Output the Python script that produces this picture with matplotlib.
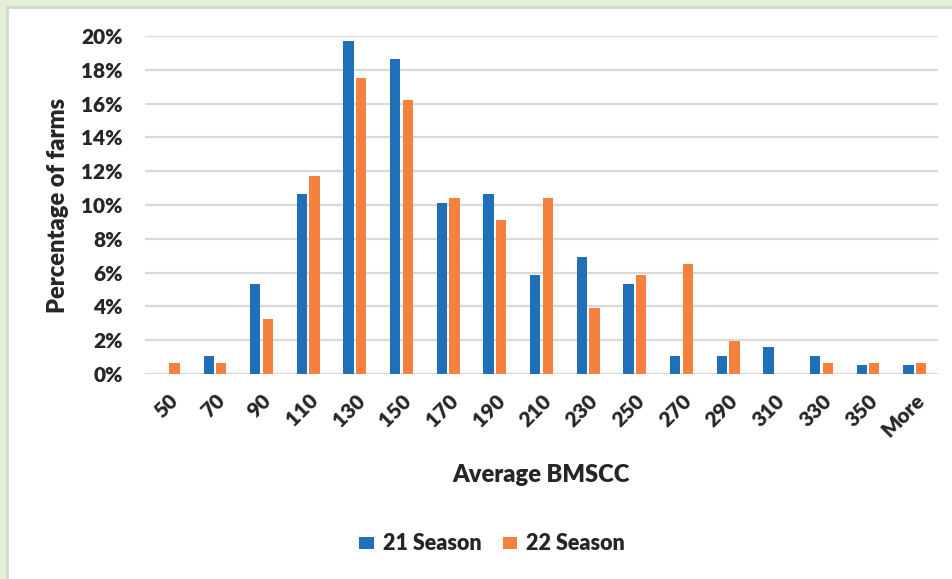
import numpy as np
import matplotlib.pyplot as plt
from matplotlib.patches import Rectangle
from matplotlib.ticker import PercentFormatter

plt.rcParams['font.family'] = ['Lato', 'DejaVu Sans']

# BMSCC bins and share of farms per season (%)
bins = ['50', '70', '90', '110', '130', '150', '170', '190', '210',
        '230', '250', '270', '290', '310', '330', '350', 'More']
season21 = [0.0, 1.06, 5.32, 10.64, 19.68, 18.62, 10.11, 10.64, 5.85,
            6.91, 5.32, 1.06, 1.06, 1.60, 1.06, 0.53, 0.53]
season22 = [0.65, 0.65, 3.25, 11.69, 17.53, 16.23, 10.39, 9.09, 10.39,
            3.90, 5.84, 6.49, 1.95, 0.0, 0.65, 0.65, 0.65]

blue = '#1f70b8'
orange = '#f4813d'
grid = '#d9d9d9'
txt = '#262626'
wt = 'heavy'

fig = plt.figure(figsize=(9.53, 5.79), dpi=100)
fig.patch.set_facecolor('#e3f0d8')
# white panel behind the chart
fig.patches.append(Rectangle((7 / 953, -0.01), 1.0, 1 - 7 / 579 + 0.01,
                             transform=fig.transFigure, facecolor='white',
                             edgecolor='#d6d6d6', linewidth=2, zorder=-10))

ax = fig.add_axes([145 / 953, 1 - 374 / 579, (938 - 145) / 953, (374 - 36) / 579])
ax.set_facecolor('none')

x = np.arange(len(bins))
w = 0.22
ax.bar(x - 0.135, season21, w, color=blue, label='21 Season', zorder=3)
ax.bar(x + 0.135, season22, w, color=orange, label='22 Season', zorder=3)

ax.set_xlim(-0.5, len(bins) - 0.5)
ax.set_ylim(0, 20)
ax.set_yticks(np.arange(0, 21, 2))
ax.yaxis.set_major_formatter(PercentFormatter(decimals=0))
ax.grid(axis='y', color=grid, linewidth=1.6, zorder=0)
for s in ax.spines.values():
    s.set_visible(False)
ax.tick_params(length=0, labelcolor=txt)
ax.tick_params(axis='y', pad=16)
ax.set_xticks(x)
ax.set_xticklabels(bins, rotation=45, ha='right', rotation_mode='anchor',
                   fontsize=15, fontweight=wt)
for lab in ax.get_yticklabels():
    lab.set_fontsize(15)
    lab.set_fontweight(wt)
ax.tick_params(axis='x', pad=12)

fig.text(58 / 953, 1 - 205 / 579, 'Percentage of farms', rotation=90,
         ha='center', va='center', fontsize=17, fontweight=wt, color=txt)
fig.text(541 / 953, 1 - 475 / 579, 'Average BMSCC', ha='center', va='center',
         fontsize=17, fontweight=wt, color=txt)

leg = fig.legend(loc='center', bbox_to_anchor=(492 / 953, 1 - 544 / 579), ncol=2,
                 frameon=False, handlelength=0.68, handleheight=0.5,
                 columnspacing=1.0, handletextpad=0.4,
                 prop={'size': 15.5, 'weight': wt})
for t in leg.get_texts():
    t.set_color(txt)

fig.savefig('out.png', dpi=100, facecolor=fig.get_facecolor())
